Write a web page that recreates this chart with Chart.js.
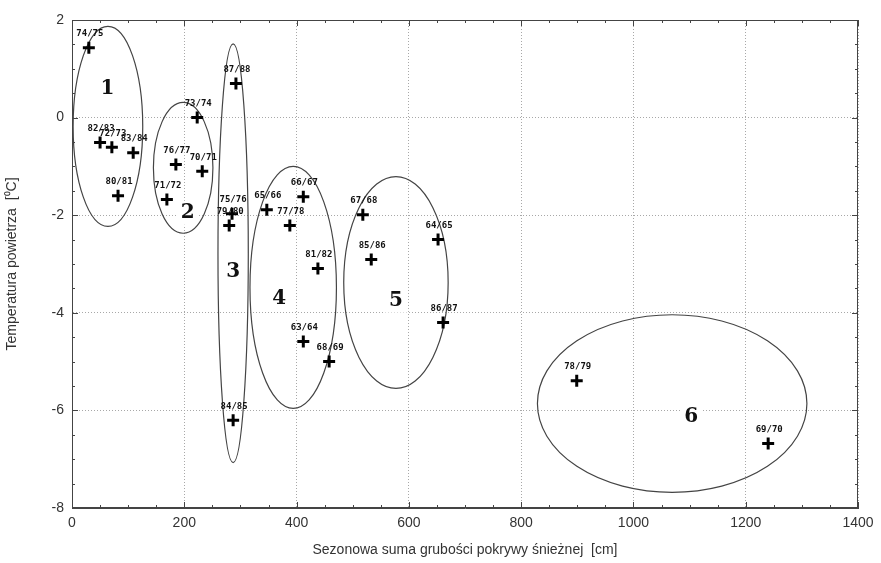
<!DOCTYPE html>
<html>
<head>
<meta charset="utf-8">
<script src="https://cdn.jsdelivr.net/npm/chart.js@4"></script>
<style>
  html, body { margin: 0; padding: 0; background: #fff; }
  #wrap { width: 881px; height: 563px; }
</style>
</head>
<body>
<div id="wrap"><canvas id="chart" width="881" height="563"></canvas></div>
<script>
// --- data ---
const seasons = ['74/75', '82/83', '72/73', '83/84', '80/81', '73/74', '76/77', '70/71', '71/72',
                 '87/88', '75/76', '79/80', '84/85', '65/66', '66/67', '77/78', '81/82', '63/64',
                 '68/69', '67/68', '85/86', '64/65', '86/87', '78/79', '69/70'];
const snowSum = [30, 50, 71, 109, 82, 223, 185, 232, 169,
                 292, 285, 280, 287, 347, 412, 388, 438, 412,
                 458, 518, 533, 652, 661, 899, 1240];
const airTemp = [1.43, -0.51, -0.61, -0.72, -1.6, 0.0, -0.96, -1.1, -1.68,
                 0.7, -1.97, -2.21, -6.2, -1.89, -1.62, -2.21, -3.09, -4.59,
                 -5.0, -1.99, -2.91, -2.5, -4.2, -5.39, -6.68];

// groups (ellipses), in data units
const groupNames = ['1', '2', '3', '4', '5', '6'];
const groupCx = [64, 198, 287, 394, 577, 1069];
const groupCy = [-0.18, -1.03, -2.78, -3.48, -3.38, -5.86];
const groupRx = [62, 53, 27, 77, 93, 240];
const groupRy = [2.05, 1.34, 4.29, 2.48, 2.17, 1.82];
const groupLabelX = [63, 206, 287, 369, 577, 1103];
const groupLabelY = [0.59, -1.95, -3.16, -3.71, -3.75, -6.14];

const xTicks = [0, 200, 400, 600, 800, 1000, 1200, 1400];
const yTicks = [-8, -6, -4, -2, 0, 2];

const points = snowSum.map((x, i) => ({ x: x, y: airTemp[i] }));

// ellipses + group numbers, drawn behind the points
const groupsPlugin = {
  id: 'groups',
  beforeDatasetsDraw(chart) {
    const { ctx, scales: { x, y } } = chart;
    ctx.save();
    // numbers with white background (they break the grid)
    ctx.font = 'bold 20px "DejaVu Serif", serif';
    ctx.textAlign = 'center';
    ctx.textBaseline = 'middle';
    groupNames.forEach((name, i) => {
      const px = x.getPixelForValue(groupLabelX[i]);
      const py = y.getPixelForValue(groupLabelY[i]);
      ctx.fillStyle = '#fff';
      ctx.fillRect(px - 11, py - 12, 22, 24);
      ctx.fillStyle = '#111';
      ctx.fillText(name, px, py);
    });
    ctx.strokeStyle = '#444';
    ctx.lineWidth = 1.2;
    groupNames.forEach((name, i) => {
      const cx = x.getPixelForValue(groupCx[i]);
      const cy = y.getPixelForValue(groupCy[i]);
      const rx = Math.abs(x.getPixelForValue(groupCx[i] + groupRx[i]) - cx);
      const ry = Math.abs(y.getPixelForValue(groupCy[i] + groupRy[i]) - cy);
      ctx.beginPath();
      ctx.ellipse(cx, cy, rx, ry, 0, 0, Math.PI * 2);
      ctx.stroke();
    });
    ctx.restore();
  },
  afterDatasetsDraw(chart) {
    const { ctx, chartArea: a } = chart;
    const meta = chart.getDatasetMeta(0);
    ctx.save();
    ctx.font = 'bold 9px "DejaVu Sans Mono", monospace';
    ctx.fillStyle = '#111';
    ctx.textAlign = 'center';
    ctx.textBaseline = 'middle';
    meta.data.forEach((pt, i) => {
      ctx.fillText(seasons[i], pt.x + 1, pt.y - 14);
    });
    // minor ticks pointing inward on all sides
    const { x, y } = chart.scales;
    ctx.strokeStyle = '#444';
    ctx.lineWidth = 1;
    ctx.beginPath();
    for (let v = 0; v <= 1400; v += 50) {
      const px = Math.round(x.getPixelForValue(v)) + 0.5;
      const len = v % 200 === 0 ? 6 : 3;
      ctx.moveTo(px, a.bottom); ctx.lineTo(px, a.bottom - len);
      ctx.moveTo(px, a.top); ctx.lineTo(px, a.top + len);
    }
    for (let v = -8; v <= 2; v += 0.5) {
      const py = Math.round(y.getPixelForValue(v)) + 0.5;
      const len = v % 2 === 0 ? 6 : 3;
      ctx.moveTo(a.left, py); ctx.lineTo(a.left + len, py);
      ctx.moveTo(a.right, py); ctx.lineTo(a.right - len, py);
    }
    ctx.stroke();
    ctx.restore();
  }
};

new Chart(document.getElementById('chart'), {
  type: 'scatter',
  data: {
    datasets: [{
      data: points,
      pointStyle: 'cross',
      pointRadius: 6,
      pointBorderWidth: 3,
      borderColor: '#000',
      backgroundColor: '#000'
    }]
  },
  options: {
    responsive: false,
    animation: false,
    layout: { padding: { top: 20, right: 23, left: 0, bottom: 0 } },
    plugins: { legend: { display: false }, tooltip: { enabled: false } },
    scales: {
      x: {
        type: 'linear',
        min: 0, max: 1400,
        afterBuildTicks(s) { s.ticks = xTicks.map(v => ({ value: v })); },
        afterFit(s) { s.height = 55; },
        grid: { color: '#a8a8a8', drawTicks: false },
        border: { display: true, color: '#444', width: 1, dash: [1, 2] },
        ticks: { color: '#333', font: { family: 'Liberation Sans', size: 14 }, padding: 7,
                 callback: v => String(v) },
        title: { display: true, text: 'Sezonowa suma grubości pokrywy śnieżnej  [cm]', color: '#333',
                 font: { family: 'Liberation Sans', size: 14 }, padding: { top: 2 } }
      },
      y: {
        type: 'linear',
        min: -8, max: 2,
        afterBuildTicks(s) { s.ticks = yTicks.map(v => ({ value: v })); },
        afterFit(s) { s.width = 72; },
        grid: { color: '#a8a8a8', drawTicks: false },
        border: { display: true, color: '#444', width: 1, dash: [1, 2] },
        ticks: { color: '#333', font: { family: 'Liberation Sans', size: 14 }, padding: 8,
                 callback: v => String(v) },
        title: { display: true, text: 'Temperatura powietrza  [\u2070C]', color: '#333',
                 font: { family: 'Liberation Sans', size: 14 }, padding: { bottom: 6 } }
      }
    }
  },
  plugins: [groupsPlugin, {
    id: 'frame',
    afterDraw(chart) {
      const { ctx, chartArea: a } = chart;
      ctx.save();
      ctx.strokeStyle = '#444';
      ctx.lineWidth = 1;
      ctx.strokeRect(a.left + 0.5, a.top + 0.5, a.right - a.left - 1, a.bottom - a.top - 1);
      ctx.restore();
    }
  }]
});
</script>
</body>
</html>
